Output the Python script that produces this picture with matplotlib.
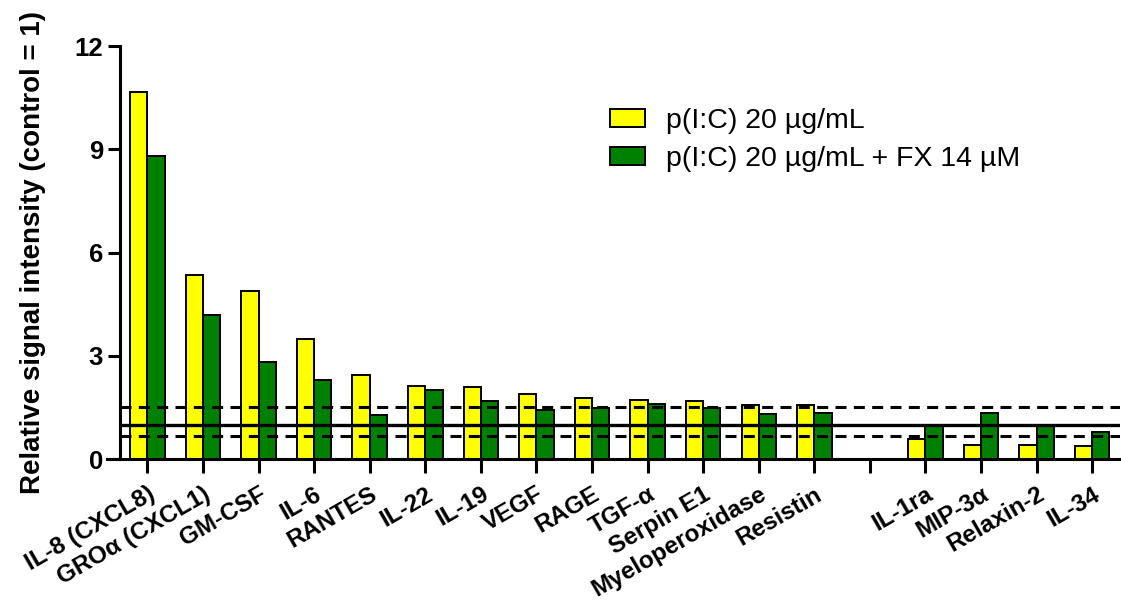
import matplotlib
matplotlib.use("Agg")
import matplotlib.pyplot as plt
import numpy as np

plt.rcParams['font.family'] = ['Liberation Sans', 'DejaVu Sans']

# data
labels = ['IL-8 (CXCL8)', 'GROα (CXCL1)', 'GM-CSF', 'IL-6', 'RANTES', 'IL-22',
          'IL-19', 'VEGF', 'RAGE', 'TGF-α', 'Serpin E1', 'Myeloperoxidase',
          'Resistin', '', 'IL-1ra', 'MIP-3α', 'Relaxin-2', 'IL-34']
pic = [10.68, 5.35, 4.89, 3.49, 2.44, 2.13, 2.10, 1.89, 1.76, 1.72, 1.68, 1.57,
       1.57, np.nan, 0.57, 0.42, 0.42, 0.39]
pic_fx = [8.81, 4.19, 2.83, 2.30, 1.27, 2.02, 1.68, 1.42, 1.47, 1.59, 1.48, 1.32,
          1.34, np.nan, 0.98, 1.35, 1.00, 0.78]
ref_lines = [1.0]
dash_lines = [1.5, 1 / 1.5]
yticks = [0, 3, 6, 9, 12]

fig = plt.figure(figsize=(11.21, 6.07), dpi=100)
ax = fig.add_axes([0.1067, 0.2438, 0.8924, 0.6802])

x = np.arange(len(labels))
w = 0.31
ax.bar(x - w / 2, pic, w, color='#FFFF00', edgecolor='black', linewidth=1.4,
       label='p(I:C) 20 µg/mL', zorder=2)
ax.bar(x + w / 2, pic_fx, w, color='#008000', edgecolor='black', linewidth=1.4,
       label='p(I:C) 20 µg/mL + FX 14 µM', zorder=2)

for v in ref_lines:
    ax.axhline(v, color='black', lw=2.4, zorder=3)
for v in dash_lines:
    ax.axhline(v, color='black', lw=2.2, ls=(0, (3.6, 2.4)), zorder=3)

ax.set_xlim(-0.5, 17.5)
ax.set_ylim(0, 12)
ax.set_yticks(yticks)
ax.set_yticklabels([str(t) for t in yticks], fontsize=18.5, fontweight='bold')
ax.set_xticks(x)
ax.set_xticklabels(labels, rotation=30, ha='right', va='top',
                   rotation_mode='anchor', fontsize=17.5, fontweight='bold')

ax.spines['top'].set_visible(False)
ax.spines['right'].set_visible(False)
ax.spines['left'].set_linewidth(2.2)
ax.spines['bottom'].set_linewidth(2.2)
ax.spines['bottom'].set_bounds(-0.72, 17.5)
ax.tick_params(axis='both', width=2.2, length=9, direction='out')
ax.tick_params(axis='x', length=10, pad=7)
ax.tick_params(axis='y', pad=3)

ax.set_ylabel('Relative signal intensity (control = 1)', fontsize=20,
              fontweight='bold')
ax.yaxis.set_label_coords(-0.074, 0.5)

ax.legend(loc='upper left', bbox_to_anchor=(0.544, 0.822),
          bbox_transform=fig.transFigure, frameon=False, fontsize=20.5,
          borderpad=0, borderaxespad=0,
          handlelength=1.23, handleheight=0.6, handletextpad=0.73,
          labelspacing=0.42)

fig.savefig('out.png', dpi=100)
